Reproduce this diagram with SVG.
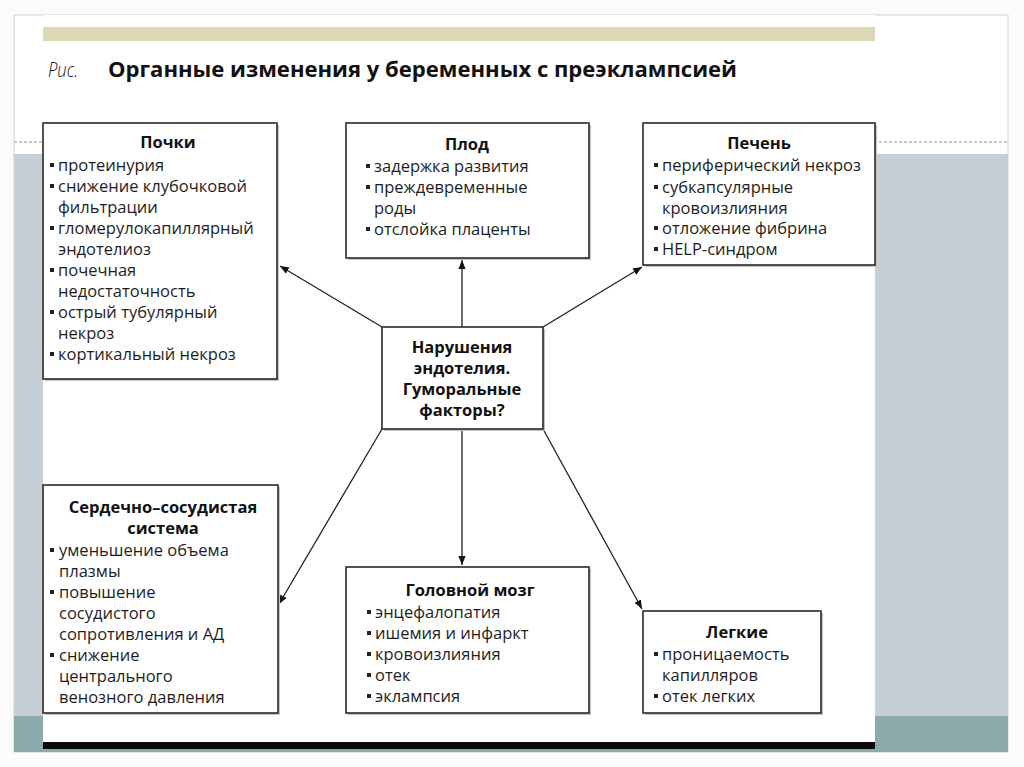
<svg xmlns="http://www.w3.org/2000/svg" width="1024" height="767" viewBox="0 0 1024 767">
<defs>
<style>
.t{font-family:"Open Sans","Noto Sans","Liberation Sans",sans-serif;font-size:16.5px;fill:#1e1e1e}
.h{font-family:"Open Sans","Noto Sans","Liberation Sans",sans-serif;font-size:16.5px;font-weight:bold;fill:#111;text-anchor:middle}
.box{fill:#fff;stroke:#2a2a2a;stroke-width:1.6}
.sh{fill:#c4c4c4}
.b{fill:#222}
.c{stroke:#222;stroke-width:1.3;fill:none;marker-end:url(#ah)}
</style>
<marker id="ah" viewBox="0 0 10 10" refX="10" refY="5" markerWidth="9" markerHeight="9" markerUnits="userSpaceOnUse" orient="auto">
<path d="M0,1 L10,5 L0,9 z" fill="#111"/>
</marker>
</defs>
<rect width="1024" height="767" fill="#fbfbfb"/>
<rect x="14" y="15" width="994" height="737" fill="#fff" stroke="#c9d2d6" stroke-width="1"/>
<rect x="14" y="154" width="994" height="562" fill="#c5cfd5"/>
<rect x="14" y="716" width="994" height="36" fill="#8aabaa"/>
<line x1="14" y1="142" x2="1008" y2="142" stroke="#8a9498" stroke-width="1" stroke-dasharray="3,2"/>
<rect x="43" y="15" width="832" height="727" fill="#fff"/>
<rect x="43" y="742" width="832" height="7" fill="#0a0a0a"/>
<rect x="43" y="27" width="832" height="14" fill="#dcd8b6"/>
<text x="48" y="77" font-family="'Open Sans','Liberation Sans',sans-serif" font-size="21" font-style="italic" font-weight="300" fill="#111" textLength="30" lengthAdjust="spacingAndGlyphs">Рис.</text>
<text x="108" y="77" font-family="'Open Sans','Liberation Sans',sans-serif" font-size="21" font-weight="bold" fill="#111" textLength="629" lengthAdjust="spacingAndGlyphs">Органные изменения у беременных с преэклампсией</text>

<g id="connectors">
<line class="c" x1="382" y1="327" x2="280" y2="266"/>
<line class="c" x1="462" y1="327" x2="462" y2="260"/>
<line class="c" x1="543" y1="327" x2="642" y2="267"/>
<line class="c" x1="382" y1="429" x2="279" y2="604"/>
<line class="c" x1="462" y1="429" x2="462" y2="565"/>
<line class="c" x1="543" y1="429" x2="642" y2="609"/>
</g>

<g id="kidneys">
<rect class="sh" x="45" y="125" width="234" height="256"/>
<rect class="box" x="43" y="123" width="234" height="256"/>
<text class="h" x="168" y="148">Почки</text>
<rect class="b" x="50" y="163" width="4" height="4"/><text class="t" x="58" y="171">протеинурия</text>
<rect class="b" x="50" y="184" width="4" height="4"/><text class="t" x="58" y="192">снижение клубочковой</text>
<text class="t" x="58" y="213">фильтрации</text>
<rect class="b" x="50" y="226" width="4" height="4"/><text class="t" x="58" y="234">гломерулокапиллярный</text>
<text class="t" x="58" y="255">эндотелиоз</text>
<rect class="b" x="50" y="268" width="4" height="4"/><text class="t" x="58" y="276">почечная</text>
<text class="t" x="58" y="297">недостаточность</text>
<rect class="b" x="50" y="310" width="4" height="4"/><text class="t" x="58" y="318">острый тубулярный</text>
<text class="t" x="58" y="339">некроз</text>
<rect class="b" x="50" y="352" width="4" height="4"/><text class="t" x="58" y="360">кортикальный некроз</text>
</g>

<g id="fetus">
<rect class="sh" x="348" y="125" width="243" height="135"/>
<rect class="box" x="346" y="123" width="243" height="135"/>
<text class="h" x="467" y="150">Плод</text>
<rect class="b" x="366" y="164" width="4" height="4"/><text class="t" x="374" y="172">задержка развития</text>
<rect class="b" x="366" y="185" width="4" height="4"/><text class="t" x="374" y="193">преждевременные</text>
<text class="t" x="374" y="214">роды</text>
<rect class="b" x="366" y="227" width="4" height="4"/><text class="t" x="374" y="235">отслойка плаценты</text>
</g>

<g id="liver">
<rect class="sh" x="645" y="125" width="232" height="142"/>
<rect class="box" x="643" y="123" width="232" height="142"/>
<text class="h" x="759" y="149">Печень</text>
<rect class="b" x="654" y="163" width="4" height="4"/><text class="t" x="662" y="171">периферический некроз</text>
<rect class="b" x="654" y="185" width="4" height="4"/><text class="t" x="662" y="193">субкапсулярные</text>
<text class="t" x="662" y="214">кровоизлияния</text>
<rect class="b" x="654" y="226" width="4" height="4"/><text class="t" x="662" y="234">отложение фибрина</text>
<rect class="b" x="654" y="247" width="4" height="4"/><text class="t" x="662" y="255">HELP-синдром</text>
</g>

<g id="center">
<rect class="sh" x="384" y="329" width="161" height="102"/>
<rect class="box" x="382" y="327" width="161" height="102"/>
<text class="h" x="462" y="353">Нарушения</text>
<text class="h" x="462" y="374">эндотелия.</text>
<text class="h" x="462" y="395">Гуморальные</text>
<text class="h" x="462" y="416">факторы?</text>
</g>

<g id="cardio">
<rect class="sh" x="45" y="487" width="235" height="228"/>
<rect class="box" x="43" y="485" width="235" height="228"/>
<text class="h" x="163" y="513">Сердечно–сосудистая</text>
<text class="h" x="163" y="534">система</text>
<rect class="b" x="50" y="548" width="4" height="4"/><text class="t" x="59" y="556">уменьшение объема</text>
<text class="t" x="59" y="577">плазмы</text>
<rect class="b" x="50" y="590" width="4" height="4"/><text class="t" x="59" y="598">повышение</text>
<text class="t" x="59" y="619">сосудистого</text>
<text class="t" x="59" y="640">сопротивления и АД</text>
<rect class="b" x="50" y="653" width="4" height="4"/><text class="t" x="59" y="661">снижение</text>
<text class="t" x="59" y="682">центрального</text>
<text class="t" x="59" y="703">венозного давления</text>
</g>

<g id="brain">
<rect class="sh" x="348" y="569" width="243" height="146"/>
<rect class="box" x="346" y="567" width="243" height="146"/>
<text class="h" x="470" y="596">Головной мозг</text>
<rect class="b" x="367" y="610" width="4" height="4"/><text class="t" x="375" y="618">энцефалопатия</text>
<rect class="b" x="367" y="631" width="4" height="4"/><text class="t" x="375" y="639">ишемия и инфаркт</text>
<rect class="b" x="367" y="652" width="4" height="4"/><text class="t" x="375" y="660">кровоизлияния</text>
<rect class="b" x="367" y="673" width="4" height="4"/><text class="t" x="375" y="681">отек</text>
<rect class="b" x="367" y="694" width="4" height="4"/><text class="t" x="375" y="702">эклампсия</text>
</g>

<g id="lungs">
<rect class="sh" x="645" y="613" width="178" height="102"/>
<rect class="box" x="643" y="611" width="178" height="102"/>
<text class="h" x="737" y="638">Легкие</text>
<rect class="b" x="654" y="652" width="4" height="4"/><text class="t" x="662" y="660">проницаемость</text>
<text class="t" x="662" y="681">капилляров</text>
<rect class="b" x="654" y="694" width="4" height="4"/><text class="t" x="662" y="702">отек легких</text>
</g>
</svg>
